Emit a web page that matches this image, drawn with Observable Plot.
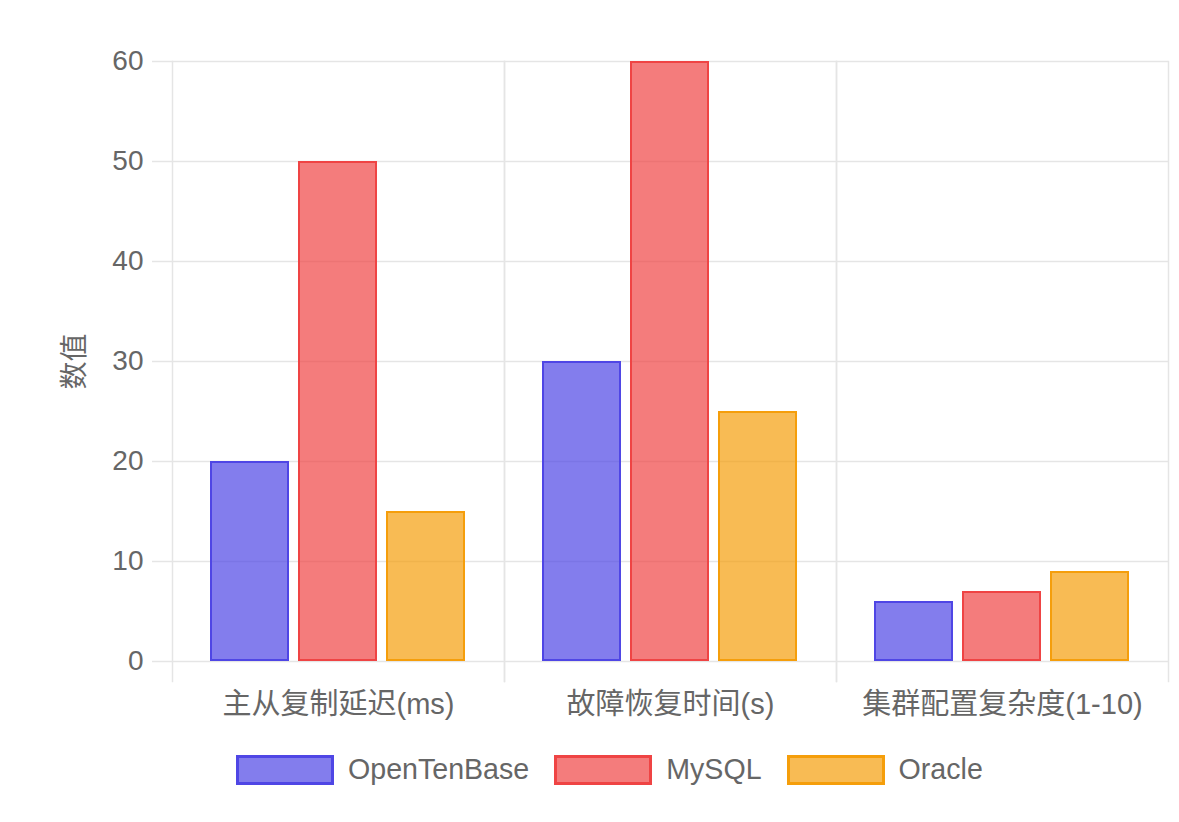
<!DOCTYPE html>
<html>
<head>
<meta charset="utf-8">
<script src="https://cdn.jsdelivr.net/npm/d3@7"></script>
<script src="https://cdn.jsdelivr.net/npm/@observablehq/plot@0.6"></script>
<style>
  body { margin: 0; background: #fff; font-family: "Liberation Sans", Arial, "Noto Sans CJK SC", sans-serif; }
  #legend { display: flex; align-items: center; padding-top: 23px; padding-left: 236px; color: #666; font-size: 28.6px; }
  .item { display: flex; align-items: center; margin-right: 25px; }
  .swatch { width: 98px; height: 30px; box-sizing: border-box; border: 3px solid; margin-right: 14px; }
</style>
</head>
<body>
<div id="chart"></div>
<div id="legend"></div>
<script>
const categories = ["主从复制延迟(ms)", "故障恢复时间(s)", "集群配置复杂度(1-10)"];
const seriesNames = ["OpenTenBase", "MySQL", "Oracle"];
const openTenBase = [20, 30, 6];
const mysql = [50, 60, 7];
const oracle = [15, 25, 9];
const yTicks = [0, 10, 20, 30, 40, 50, 60];
const colors = ["rgb(79,70,229)", "rgb(239,68,68)", "rgb(245,158,11)"];

const seriesValues = [openTenBase, mysql, oracle];
const data = [];
categories.forEach((c, i) => {
  seriesNames.forEach((s, j) => data.push({category: c, series: s, value: seriesValues[j][i]}));
});

const font = `"Liberation Sans", Arial, "Noto Sans CJK SC", sans-serif`;

const chart = Plot.plot({
  width: 1179,
  height: 730,
  marginTop: 61,
  marginBottom: 69,
  marginLeft: 172,
  marginRight: 11,
  style: {fontFamily: font, fontSize: "28px", color: "#666", background: "#fff"},
  fx: {domain: categories, padding: 0, axis: null},
  x: {domain: seriesNames, paddingInner: 0.1, paddingOuter: 0.425, axis: null},
  y: {domain: [0, 60], axis: null},
  color: {domain: seriesNames, range: colors},
  marks: [
    Plot.gridY(yTicks, {stroke: "#e5e5e5", strokeOpacity: 1, strokeWidth: 1.5}),
    Plot.frame({anchor: "left", stroke: "#e5e5e5", strokeOpacity: 1, strokeWidth: 1.5, insetBottom: -20}),
    Plot.frame({anchor: "right", stroke: "#e5e5e5", strokeOpacity: 1, strokeWidth: 1.5, insetBottom: -20}),
    Plot.axisY(yTicks, {
      anchor: "left", tickSize: 20, tickPadding: 9, stroke: "#e5e5e5", strokeWidth: 1.5,
      fill: "#666", fontSize: 28, label: "数值", labelAnchor: "center", labelArrow: "none", labelOffset: 108
    }),
    Plot.axisFx({anchor: "bottom", tickSize: 0, tickPadding: 32, fill: "#666", fontSize: 29, label: null}),
    Plot.barY(data, {
      fx: "category", x: "series", y: "value",
      fill: "series", fillOpacity: 0.7, stroke: "series", strokeWidth: 2, inset: 1
    })
  ]
});
document.getElementById("chart").appendChild(chart);

const legend = document.getElementById("legend");
seriesNames.forEach((s, j) => {
  const item = document.createElement("div");
  item.className = "item";
  const sw = document.createElement("div");
  sw.className = "swatch";
  sw.style.borderColor = colors[j];
  sw.style.background = colors[j].replace("rgb", "rgba").replace(")", ",0.7)");
  const t = document.createElement("span");
  t.textContent = s;
  item.appendChild(sw);
  item.appendChild(t);
  legend.appendChild(item);
});
</script>
</body>
</html>
